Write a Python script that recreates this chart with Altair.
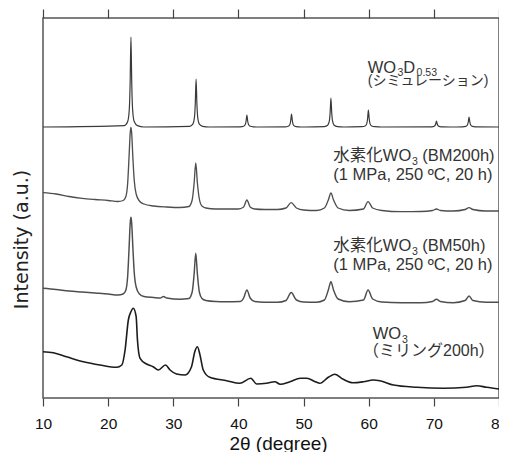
import altair as alt
import pandas as pd

# ---------------- data (2θ in degrees, intensity in a.u. incl. stacking offset) -------------
SERIES = ["sim", "bm200", "bm50", "wo3"]

SIM_X = [10, 22.5, 23.0, 23.25, 23.38, 23.5, 23.62, 23.75, 24.0, 24.5, 25.5,
         32.5, 33.0, 33.25, 33.38, 33.5, 33.62, 33.75, 34.0, 34.5, 35.5,
         40.3, 40.8, 41.05, 41.18, 41.3, 41.42, 41.55, 41.8, 42.3, 43.3,
         47.15, 47.65, 47.9, 48.03, 48.15, 48.27, 48.4, 48.65, 49.15, 50.2,
         53.2, 53.7, 53.95, 54.08, 54.2, 54.32, 54.45, 54.7, 55.2, 56.2,
         58.95, 59.45, 59.7, 59.83, 59.95, 60.07, 60.2, 60.45, 60.95, 62.0,
         69.4, 69.9, 70.15, 70.28, 70.4, 70.52, 70.65, 70.9, 71.4, 72.5,
         74.4, 74.9, 75.15, 75.28, 75.4, 75.52, 75.65, 75.9, 76.4, 80]
SIM_Y = [271, 272.4, 276.4, 289, 316, 361, 316, 289, 276.4, 272.4, 271,
         271.7, 273.9, 280.6, 295, 319, 295, 280.6, 273.9, 271.7, 271,
         271.2, 271.7, 273.4, 277, 283, 277, 273.4, 271.7, 271.2, 271,
         271.2, 271.8, 273.6, 277.5, 284, 277.5, 273.6, 271.8, 271.2, 271,
         271.4, 272.7, 276.8, 285.5, 300, 285.5, 276.8, 272.7, 271.4, 271,
         271.3, 272, 274.4, 279.5, 288, 279.5, 274.4, 272, 271.3, 271,
         271.1, 271.4, 272.2, 274, 277, 274, 272.2, 271.4, 271.1, 271,
         271.2, 271.6, 273, 276, 281, 276, 273, 271.6, 271.2, 271]

BM200_X = [10, 12, 14, 16, 18, 20, 21.5, 22.3, 22.7, 23.0, 23.2, 23.4, 23.5, 23.6, 23.8,
           24.0, 24.3, 24.8, 25.5, 27, 29, 31, 32.4, 32.9, 33.2, 33.45, 33.7, 34.0, 34.4,
           35, 36.5, 38, 40, 40.8, 41.3, 41.8, 42.5, 44, 46, 47.3, 48.1, 48.9, 50, 52,
           53.2, 53.8, 54.2, 54.6, 55.3, 57, 59.2, 59.9, 60.6, 62, 65, 68, 69.8, 70.4,
           71, 73, 74.8, 75.4, 76, 78, 80]
BM200_Y = [205.3, 204, 201.5, 199.7, 198.5, 197.5, 196.5, 197.5, 201, 215, 240, 266, 270.7, 266, 240,
           218, 204, 197, 194, 192, 191, 190.5, 191.5, 198, 215, 235, 215, 199, 192,
           190, 189, 189, 189, 191, 198, 191, 189, 188.5, 188.5, 190, 195.3, 190, 188, 187.5,
           190, 198, 205, 198, 190, 187.5, 189, 196.3, 190, 187.5, 186.3, 186.5, 187.5, 189,
           187.5, 187, 188.5, 190.3, 188.5, 187, 187]

BM50_X = [10, 12, 14, 16, 18, 20, 21.5, 22.3, 22.7, 23.0, 23.2, 23.4, 23.5, 23.6, 23.8,
          24.0, 24.3, 24.8, 25.5, 27, 28.0, 28.5, 29.0, 31, 32.4, 32.9, 33.2, 33.45, 33.7,
          34.0, 34.4, 35, 36.5, 38, 40.3, 40.8, 41.3, 41.8, 42.5, 44, 46, 47.3, 48.1, 48.9,
          50, 52, 53.2, 53.8, 54.2, 54.6, 55.3, 57, 59.2, 59.9, 60.6, 62, 65, 68, 69.8,
          70.4, 71, 73, 74.8, 75.4, 76, 78, 80]
BM50_Y = [109.7, 108.5, 107, 106, 105, 104, 103, 104, 107.5, 122, 148, 176, 180.7, 176, 150,
          126, 111, 104, 101.5, 100.5, 100, 101.5, 100, 98.7, 99.5, 106, 124, 144.7, 124,
          106, 99.5, 97.5, 96.5, 96.3, 96.5, 100, 108, 100, 96.5, 95.7, 95.7, 97.5, 105.5, 98,
          96, 95.8, 98, 108, 116.3, 108, 99, 96.3, 98, 108, 99, 96, 95.3, 95.3, 96.5,
          98.7, 96.5, 95.3, 97.5, 102, 97.5, 95.7, 95.7]

WO3_X = [10, 11.6, 13.6, 16.2, 18.75, 21.3, 22.1, 22.6, 23.1, 23.5, 23.86, 24.3, 24.5, 24.9,
         25.9, 26.9, 27.7, 28.8, 29.5, 30.5, 31.8, 32.8, 33.3, 33.7, 34.1, 34.6, 35.6, 38.2,
         40.2, 41.9, 42.8, 44.3, 45.6, 46.4, 47.9, 49.5, 50.5, 51.8, 52.5, 53.8, 54.8, 56.1,
         57.6, 59.2, 60.7, 61.7, 63.8, 67.4, 71.5, 75.0, 76.6, 78.1, 80]
WO3_Y = [46.3, 45.3, 41.3, 36.3, 33, 30.7, 33, 48, 78, 86.3, 89.7, 81.3, 58, 39.7,
         34, 31.3, 28, 33, 28, 24, 23, 31.3, 46.3, 51.3, 43, 28, 20.7, 17.3,
         14.7, 19.7, 14, 14.7, 16.3, 13.7, 16.3, 19.7, 19.7, 16.3, 14.7, 20.7, 23.7, 18.7,
         15.3, 16.3, 18, 17.3, 13, 10.7, 9.7, 10.7, 12.3, 10.7, 9]

TICKS = [10, 20, 30, 40, 50, 60, 70, 80]

# label segments: text, 2θ position, intensity position, font size
LABEL_TEXT = ["WO", "3", "D", "0.53", "(シミュレーション)",
              "水素化WO", "3", "(BM200h)", "(1 MPa, 250 ºC, 20 h)",
              "水素化WO", "3", "(BM50h)", "(1 MPa, 250 ºC, 20 h)",
              "WO", "3", "（ミリング200h）"]
LABEL_X = [59.85, 64.4, 65.3, 67.35, 59.85,
           54.57, 66.65, 68.2, 54.57,
           54.57, 66.65, 68.2, 54.57,
           60.61, 65.1, 59.12]
LABEL_Y = [325.3, 321.7, 325.3, 321.7, 313,
           237, 233, 237, 218,
           147, 143, 147, 128.5,
           59, 55, 42.5]
LABEL_SIZE = [16.5, 10.5, 16.5, 10.5, 14,
              16.5, 10.5, 16.5, 16.5,
              16.5, 10.5, 16.5, 16.5,
              16.5, 10.5, 16]

# ---------------- tables ----------------
rows = []
for name, xs, ys in [("sim", SIM_X, SIM_Y), ("bm200", BM200_X, BM200_Y),
                     ("bm50", BM50_X, BM50_Y), ("wo3", WO3_X, WO3_Y)]:
    for a, b in zip(xs, ys):
        rows.append({"series": name, "theta": a, "intensity": b})
df = pd.DataFrame(rows)
lab = pd.DataFrame({"txt": LABEL_TEXT, "tx": LABEL_X, "ty": LABEL_Y, "sz": LABEL_SIZE})

xscale = alt.Scale(domain=[10, 80], nice=False, zero=False)
yscale = alt.Scale(domain=[0, 380], nice=False, zero=False)


def yaxis():
    return alt.Axis(title="Intensity (a.u.)", labels=False, ticks=False, domain=False, grid=False,
                    titleFont="DejaVu Sans", titleFontSize=19, titleFontWeight="normal",
                    titleColor="#222", titleAngle=270, titleAlign="center",
                    titleBaseline="middle", titleX=-22, titleY=221)


lines = alt.Chart(df).mark_line(interpolate="monotone").encode(
    x=alt.X("theta:Q", scale=xscale,
            axis=alt.Axis(orient="bottom", values=TICKS, title="2θ (degree)", tickSize=8,
                          tickColor="#444", tickWidth=1.2, domain=False, grid=False,
                          labelFont="Liberation Sans", labelFontSize=15.5, labelColor="#111",
                          labelPadding=10, labelFlush=False,
                          titleFont="Liberation Sans", titleFontSize=19, titleFontWeight="normal",
                          titleColor="#111", titleX=235, titleY=51, titleAlign="center",
                          titleBaseline="alphabetic")),
    y=alt.Y("intensity:Q", scale=yscale, axis=yaxis()),
    color=alt.Color("series:N", scale=alt.Scale(domain=SERIES,
                    range=["#3a3a3a", "#4e4e4e", "#4e4e4e", "#1c1c1c"]), legend=None),
    strokeWidth=alt.StrokeWidth("series:N", scale=alt.Scale(domain=SERIES,
                                range=[1.2, 1.6, 1.6, 1.5]), legend=None),
)

texts = alt.Chart(lab).mark_text(align="left", baseline="alphabetic",
                                 font="Liberation Sans, Noto Sans CJK JP", color="#333").encode(
    x=alt.X("tx:Q", scale=xscale,
            axis=alt.Axis(orient="top", values=TICKS, labels=False, tickSize=9, tickColor="#444",
                          tickWidth=1.2, domain=False, grid=False, title=None)),
    y=alt.Y("ty:Q", scale=yscale, axis=yaxis()),
    text="txt:N",
    size=alt.Size("sz:Q", scale=None, legend=None),
)

chart = alt.layer(lines, texts).resolve_axis(x="independent").properties(
    width=456, height=380,
    autosize=alt.AutoSizeParams(type="none"),
    padding={"left": 35, "top": 10, "right": 0, "bottom": 54},
).configure_view(stroke="#555", strokeWidth=1.5)

chart.save("out.html", embed_options={"renderer": "svg", "actions": False})
